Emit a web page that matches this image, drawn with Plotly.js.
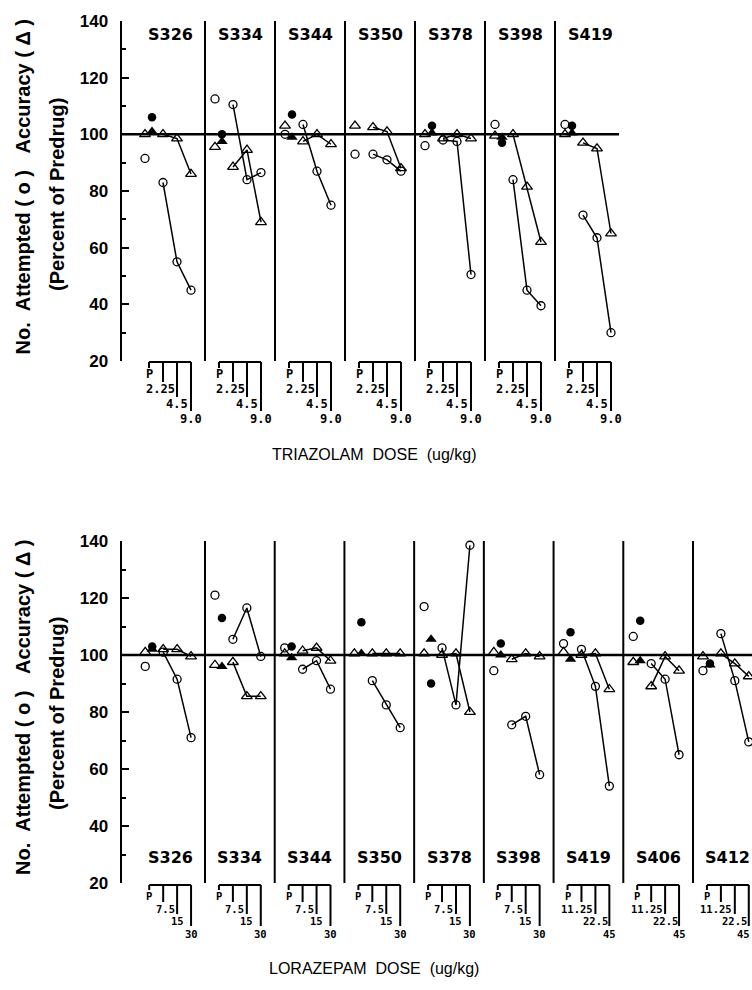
<!DOCTYPE html>
<html><head><meta charset="utf-8">
<script src="https://cdn.plot.ly/plotly-3.0.1.min.js"></script>
<style>html,body{margin:0;padding:0;background:#fff}</style>
</head><body><div id="chart" style="width:752px;height:990px"></div>
<script>
// ---------------- DATA ----------------
const yTickVals = [20, 40, 60, 80, 100, 120, 140];
const yTickText = ['20', '40', '60', '80', '100', '120', '140'];
const yMinorVals = [30, 50, 70, 90, 110, 130];

// Triazolam (top)
const triSubjects = ['S326', 'S334', 'S344', 'S350', 'S378', 'S398', 'S419'];
const triDoseLabels = [
  ['P', '2.25', '4.5', '9.0'], ['P', '2.25', '4.5', '9.0'], ['P', '2.25', '4.5', '9.0'],
  ['P', '2.25', '4.5', '9.0'], ['P', '2.25', '4.5', '9.0'], ['P', '2.25', '4.5', '9.0'],
  ['P', '2.25', '4.5', '9.0']
];
const triPlaceboAttOpen   = [91.5, 112.5, 100, 93, 96, 103.5, 103.5];
const triPlaceboAccOpen   = [100, 95.5, 103, 103, 100, 99.5, 100];
const triPlaceboAttFilled = [106, 100, 107, null, 103, 97, 103];
const triPlaceboAccFilled = [101, 97.5, 99, null, 100.5, 99, 100.5];
const triAttempted = [
  [83, 55, 45], [110.5, 84, 86.5], [103.5, 87, 75], [93, 91, 87],
  [98, 97.5, 50.5], [84, 45, 39.5], [71.5, 63.5, 30]
];
const triAccuracy = [
  [100, 98.5, 86], [88.5, 94.5, 69], [97.5, 100, 96.5], [102.5, 101, 88],
  [98.5, 100, 98.5], [100, 81.5, 62], [97, 95, 65]
];

// Lorazepam (bottom)
const lorSubjects = ['S326', 'S334', 'S344', 'S350', 'S378', 'S398', 'S419', 'S406', 'S412'];
const lorDoseLabels = [
  ['P', '7.5', '15', '30'], ['P', '7.5', '15', '30'], ['P', '7.5', '15', '30'],
  ['P', '7.5', '15', '30'], ['P', '7.5', '15', '30'], ['P', '7.5', '15', '30'],
  ['P', '11.25', '22.5', '45'], ['P', '11.25', '22.5', '45'], ['P', '11.25', '22.5', '45']
];
const lorPlaceboAttOpen   = [96, 121, 102.5, null, 117, 94.5, 104, 106.5, 94.5];
const lorPlaceboAccOpen   = [101, 96.5, 100.5, 100.5, 100.5, 101, 101, 97.5, 99.5];
const lorPlaceboAttFilled = [103, 113, 103, 111.5, 90, 104, 108, 112, 97];
const lorPlaceboAccFilled = [102, 96, 99, 100.5, 105.5, 100, 98.5, 98, 96.5];
const lorAttempted = [
  [101, 91.5, 71], [105.5, 116.5, 99.5], [95, 98, 88], [91, 82.5, 74.5],
  [102.5, 82.5, 138.5], [75.5, 78.5, 58], [102, 89, 54], [97, 91.5, 65], [107.5, 91, 69.5]
];
const lorAccuracy = [
  [102, 102, 99.5], [97.5, 85.5, 85.5], [101.5, 102.5, 98], [100.5, 100.5, 100.5],
  [100, 100.5, 80], [98.5, 100.5, 99.5], [100, 100.5, 88], [89, 99.5, 94.5], [100.5, 97, 92.5]
];

const yTitleLine1 = 'No.\u00a0\u00a0Attempted\u00a0(\u00a0o\u00a0)\u00a0\u00a0\u00a0Accuracy\u00a0(\u00a0\u0394\u00a0)';
const yTitleLine2 = '(Percent of Predrug)';
const triXTitle = 'TRIAZOLAM\u00a0\u00a0DOSE\u00a0\u00a0(ug/kg)';
const lorXTitle = 'LORAZEPAM\u00a0\u00a0DOSE\u00a0\u00a0(ug/kg)';

// ---------------- LAYOUT / STYLE ----------------
const W = 752, H = 990;
const PANEL_W = 70;           // x units per subject panel
const P_OPEN_X = 10, P_FILLED_X = 17;
const TICK_X = [14, 28, 42, 56];
const BLACK = '#000';
const px2p = px => px / W;
const py2p = py => 1 - py / H;

const traces = [], shapes = [], annotations = [];
const layout = {
  width: W, height: H, margin: {l: 0, r: 0, t: 0, b: 0},
  paper_bgcolor: '#fff', plot_bgcolor: 'rgba(0,0,0,0)', showlegend: false,
  hovermode: false
};

function buildPanel(cfg, d) {
  const xa = cfg.xa, ya = cfg.ya;
  const xr = 'x' + (xa === 'xaxis' ? '' : xa.slice(5));
  const yr = 'y' + (ya === 'yaxis' ? '' : ya.slice(5));
  const n = d.subjects.length;
  const unitToPx = u => cfg.originPx + u * cfg.ppu;
  layout[xa] = {
    domain: [px2p(cfg.domPx[0]), px2p(cfg.domPx[1])],
    range: [(cfg.domPx[0] - cfg.originPx) / cfg.ppu, (cfg.domPx[1] - cfg.originPx) / cfg.ppu],
    anchor: yr, showline: false, showticklabels: false, ticks: '', showgrid: false,
    zeroline: false, fixedrange: true
  };
  layout[ya] = {
    domain: [py2p(cfg.yPx[1]), py2p(cfg.yPx[0])], range: [20, 140], anchor: xr,
    showline: true, linewidth: 2, linecolor: BLACK, mirror: false,
    tickmode: 'array', tickvals: yTickVals, ticktext: yTickText,
    ticks: 'inside', ticklen: 7, tickwidth: 2, tickcolor: BLACK,
    tickfont: {family: 'Liberation Sans, Arial, sans-serif', size: 17, color: BLACK, weight: 'bold'},
    ticklabelstandoff: 8,
    minor: {tickmode: 'array', tickvals: yMinorVals, ticks: 'inside', ticklen: 4, tickwidth: 2, tickcolor: BLACK},
    showgrid: false, zeroline: false, fixedrange: true
  };

  // connected dose lines
  const ax = [], ay = [], cx = [], cy = [];
  for (let i = 0; i < n; i++) {
    for (let k = 0; k < 3; k++) {
      ax.push(i * PANEL_W + TICK_X[k + 1]); ay.push(d.att[i][k]);
      cx.push(i * PANEL_W + TICK_X[k + 1]); cy.push(d.acc[i][k]);
    }
    ax.push(null); ay.push(null); cx.push(null); cy.push(null);
  }
  const base = {xaxis: xr, yaxis: yr, type: 'scatter', cliponaxis: false, hoverinfo: 'skip'};
  traces.push(Object.assign({}, base, {
    x: ax, y: ay, mode: 'lines+markers', connectgaps: false,
    line: {color: BLACK, width: 1.5},
    marker: {symbol: 'circle-open', size: 8, color: BLACK, line: {width: 1.3, color: BLACK}}
  }));
  traces.push(Object.assign({}, base, {
    x: cx, y: cy, mode: 'lines+markers', connectgaps: false,
    line: {color: BLACK, width: 1.5},
    marker: {symbol: 'triangle-up-open', size: 9.5, color: BLACK, line: {width: 1.3, color: BLACK}}
  }));
  const idx = [...Array(n).keys()];
  traces.push(Object.assign({}, base, {
    x: idx.map(i => i * PANEL_W + P_OPEN_X), y: d.pAttOpen, mode: 'markers',
    marker: {symbol: 'circle-open', size: 8, color: BLACK, line: {width: 1.3, color: BLACK}}
  }));
  traces.push(Object.assign({}, base, {
    x: idx.map(i => i * PANEL_W + P_OPEN_X), y: d.pAccOpen, mode: 'markers',
    marker: {symbol: 'triangle-up-open', size: 9.5, color: BLACK, line: {width: 1.3, color: BLACK}}
  }));
  traces.push(Object.assign({}, base, {
    x: idx.map(i => i * PANEL_W + P_FILLED_X), y: d.pAttFilled, mode: 'markers',
    marker: {symbol: 'circle', size: 8.5, color: BLACK}
  }));
  traces.push(Object.assign({}, base, {
    x: idx.map(i => i * PANEL_W + P_FILLED_X), y: d.pAccFilled, mode: 'markers',
    marker: {symbol: 'triangle-up', size: 10, color: BLACK}
  }));

  // reference line at 100
  shapes.push({type: 'line', xref: xr + ' domain', yref: yr, x0: 0, x1: 1, y0: 100, y1: 100,
    line: {color: BLACK, width: 2.5}, layer: 'below'});
  // subject dividers
  for (let j = 1; j < n; j++) {
    shapes.push({type: 'line', xref: xr, yref: yr, x0: j * PANEL_W, x1: j * PANEL_W, y0: 20, y1: 140,
      line: {color: BLACK, width: 2}, layer: 'below'});
  }
  // subject labels, dose brackets
  for (let i = 0; i < n; i++) {
    annotations.push({xref: xr, yref: yr, x: i * PANEL_W + 35, y: cfg.subjY, text: d.subjects[i],
      showarrow: false, xanchor: 'center', yanchor: 'middle',
      font: {family: 'DejaVu Sans, sans-serif', size: 16, color: BLACK, weight: 'bold'}});
    const x0 = i * PANEL_W;
    shapes.push({type: 'line', xref: xr, yref: 'paper', x0: x0 + TICK_X[0], x1: x0 + TICK_X[3],
      y0: py2p(cfg.brTop), y1: py2p(cfg.brTop), line: {color: BLACK, width: 2}});
    for (let k = 0; k < 4; k++) {
      shapes.push({type: 'line', xref: xr, yref: 'paper', x0: x0 + TICK_X[k], x1: x0 + TICK_X[k],
        y0: py2p(cfg.brTop), y1: py2p(cfg.tickEnd[k]), line: {color: BLACK, width: 2}});
      const a = {xref: xr, yref: 'paper', y: py2p(cfg.labY[k]), text: d.doseLabels[i][k],
        showarrow: false, yanchor: 'middle', borderpad: 0,
        font: {family: 'DejaVu Sans Mono, monospace', size: cfg.labSize, color: BLACK, weight: 'bold'}};
      if (k === 1) { a.x = x0 + TICK_X[2] - 1.5; a.xanchor = 'right'; }
      else if (unitToPx(x0 + TICK_X[k]) > W - 10) { a.x = (W - 1 - cfg.originPx) / cfg.ppu; a.xanchor = 'right'; }
      else { a.x = x0 + TICK_X[k]; a.xanchor = 'center'; }
      annotations.push(a);
    }
  }
  // axis titles
  annotations.push({xref: 'paper', yref: 'paper', x: px2p(cfg.xTitle[0]), y: py2p(cfg.xTitle[1]),
    text: d.xTitle, showarrow: false, xanchor: 'center', yanchor: 'middle',
    font: {family: 'Liberation Sans, Arial, sans-serif', size: 16, color: BLACK}});
  annotations.push({xref: 'paper', yref: 'paper', x: px2p(23), y: py2p(cfg.yT1), textangle: -90,
    text: yTitleLine1, showarrow: false, xanchor: 'center', yanchor: 'middle',
    font: {family: 'Liberation Sans, Arial, sans-serif', size: 20, color: BLACK, weight: 'bold'}});
  annotations.push({xref: 'paper', yref: 'paper', x: px2p(57), y: py2p(cfg.yT2), textangle: -90,
    text: yTitleLine2, showarrow: false, xanchor: 'center', yanchor: 'middle',
    font: {family: 'Liberation Sans, Arial, sans-serif', size: 20, color: BLACK, weight: 'bold'}});
}

buildPanel({
  xa: 'xaxis', ya: 'yaxis', domPx: [121.5, 619], originPx: 135, ppu: 1, yPx: [21, 361],
  subjY: 135.3, brTop: 362, tickEnd: [368, 382, 397, 411], labY: [374, 389, 404, 419], labSize: 12,
  xTitle: [374, 455], yT1: 186.5, yT2: 195
}, {
  subjects: triSubjects, doseLabels: triDoseLabels, att: triAttempted, acc: triAccuracy,
  pAttOpen: triPlaceboAttOpen, pAccOpen: triPlaceboAccOpen,
  pAttFilled: triPlaceboAttFilled, pAccFilled: triPlaceboAccFilled, xTitle: triXTitle
});

buildPanel({
  xa: 'xaxis2', ya: 'yaxis2', domPx: [121.5, 752], originPx: 135.29, ppu: 0.99592, yPx: [541, 883],
  subjY: 28.8, brTop: 885, tickEnd: [890, 902, 914, 926], labY: [896, 909, 921, 934], labSize: 10.5,
  xTitle: [374, 968], yT1: 707, yT2: 714
}, {
  subjects: lorSubjects, doseLabels: lorDoseLabels, att: lorAttempted, acc: lorAccuracy,
  pAttOpen: lorPlaceboAttOpen, pAccOpen: lorPlaceboAccOpen,
  pAttFilled: lorPlaceboAttFilled, pAccFilled: lorPlaceboAccFilled, xTitle: lorXTitle
});

layout.shapes = shapes;
layout.annotations = annotations;
Plotly.newPlot('chart', traces, layout, {displayModeBar: false, staticPlot: true});
</script></body></html>
